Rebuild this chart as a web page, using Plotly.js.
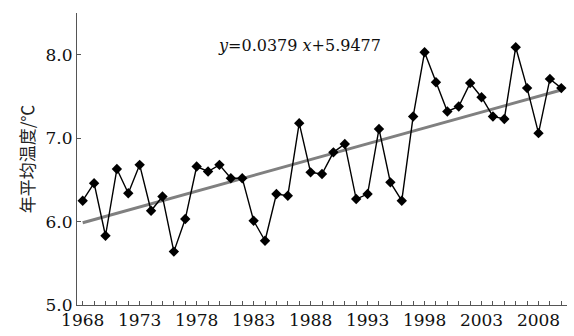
<!DOCTYPE html>
<html>
<head>
<meta charset="utf-8">
<script src="https://cdn.plot.ly/plotly-3.0.1.min.js"></script>
<style>html,body{margin:0;padding:0;background:#fff;}#chart{width:574px;height:336px;}</style>
</head>
<body>
<div id="chart"></div>
<script>
const years = [1968,1969,1970,1971,1972,1973,1974,1975,1976,1977,1978,1979,1980,1981,1982,1983,1984,1985,1986,1987,1988,1989,1990,1991,1992,1993,1994,1995,1996,1997,1998,1999,2000,2001,2002,2003,2004,2005,2006,2007,2008,2009,2010];
const temps = [6.25,6.46,5.83,6.63,6.34,6.68,6.13,6.30,5.64,6.03,6.66,6.60,6.68,6.52,6.52,6.01,5.77,6.33,6.31,7.18,6.59,6.57,6.83,6.93,6.27,6.33,7.11,6.47,6.25,7.26,8.03,7.67,7.32,7.38,7.66,7.49,7.26,7.23,8.09,7.60,7.06,7.71,7.60];
const slope = 0.0379;
const intercept = 5.9477;
const xTickVals = [1968,1973,1978,1983,1988,1993,1998,2003,2008];
const yTickVals = [5.0,6.0,7.0,8.0];
const equationText = '<i>y</i>=0.0379 <i>x</i>+5.9477';
const yTitle = '年平均温度/℃';

const trendY = years.map((y, i) => slope * (i + 1) + intercept);

const serif = 'DejaVu Serif';

const data = [
  {
    x: years, y: trendY, mode: 'lines', type: 'scatter',
    line: {color: '#808080', width: 3}, hoverinfo: 'skip'
  },
  {
    x: years, y: temps, mode: 'lines+markers', type: 'scatter',
    line: {color: '#000', width: 1.4},
    marker: {symbol: 'diamond', size: 8, color: '#000'}
  }
];

const layout = {
  width: 574, height: 336,
  margin: {l: 77, r: 7, t: 13, b: 31},
  paper_bgcolor: '#fff', plot_bgcolor: '#fff',
  showlegend: false,
  font: {family: serif, size: 17, color: '#111'},
  xaxis: {
    range: [1967.5, 2010.5],
    tickvals: xTickVals, ticktext: xTickVals.map(String),
    ticks: 'inside', ticklen: 4, tickcolor: '#555', tickwidth: 1,
    minor: {dtick: 1, tick0: 1968, ticks: 'inside', ticklen: 4, tickcolor: '#555'},
    showgrid: false, zeroline: false,
    showline: true, linecolor: '#555', linewidth: 1,
    tickfont: {family: serif, size: 17, color: '#111'}
  },
  yaxis: {
    range: [5.0, 8.5],
    tickvals: yTickVals, tickformat: '.1f',
    ticks: 'inside', ticklen: 4, tickcolor: '#555',
    showgrid: false, zeroline: false,
    showline: true, linecolor: '#555', linewidth: 1,
    tickfont: {family: serif, size: 17, color: '#111'},
    title: {text: yTitle, font: {family: 'Noto Sans CJK SC', size: 17, color: '#222'}, standoff: 6}
  },
  annotations: [{
    x: 0.455, xref: 'paper', yref: 'paper', yanchor: 'middle', xanchor: 'center',
    y: 1 - (45 - 13) / (336 - 13 - 31),
    text: equationText, showarrow: false,
    font: {family: serif, size: 16, color: '#111'}
  }]
};

Plotly.newPlot('chart', data, layout, {displayModeBar: false, staticPlot: true});
</script>
</body>
</html>
